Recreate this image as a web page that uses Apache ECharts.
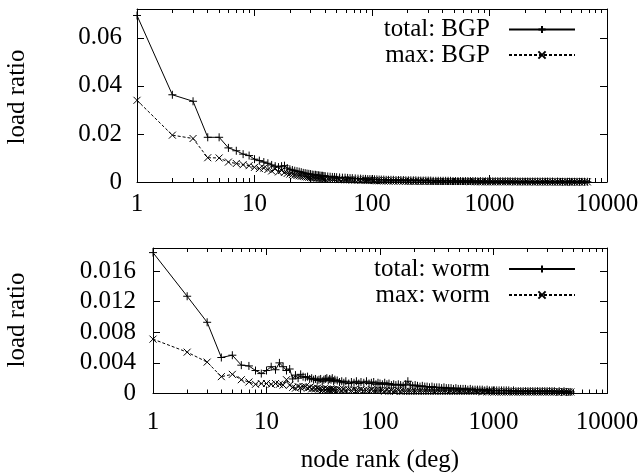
<!DOCTYPE html>
<html><head><meta charset="utf-8">
<script src="https://cdn.jsdelivr.net/npm/echarts@6/dist/echarts.min.js"></script>
<style>html,body{margin:0;padding:0;background:#fff}#c{width:642px;height:476px}</style>
</head><body><div id="c"></div>
<script>
// ---- data ----
const ranksHead = [1,2,3,4,5,6,7,8,9,10,11,12,13,14,15,16,17,18,19,20,21,22,23,24,25,26,27,28,29,30,31,32,33,34,35,36,37,38,39,40];
const ranksTail = [42,44,46,48,50,53,56,59,62,65,68,72,76,80,84,88,92,96,100,105,110,115,120,126,132,138,145,152,160,168,176,185,194,204,214,225,236,248,260,273,287,301,316,332,349,366,384,403,423,444,466,489,513,539,566,594,624,655,688,722,758,796,836,878,922,968,1016,1067,1120,1176,1235,1297,1362,1430,1500,1575,1654,1737,1824,1915,2011,2111,2217,2328,2444,2566,2694,2829,2970,3119,3275,3439,3611,3792,3981,4180,4389,4608,4800];
const ranksBGPExtra = [5040,5292,5557,5835,6127,6433,6800];
const ranksBGP = ranksHead.concat(ranksTail, ranksBGPExtra);
const ranksWorm = ranksHead.concat(ranksTail);

const totalBGP = [
.0693,.0363,.0336,.0186,.0186,.0142,.0130,.0116,.0110,.0095,
.0089,.0083,.0078,.0071,.0066,.0062,.0066,.0068,.0058,.0053,
.0050,.0047,.0045,.0043,.0041,.0038,.0037,.0035,.0034,.0033,
.0031,.0030,.0030,.0029,.0028,.0027,.0026,.0026,.0025,.0024,
.0023,.0022,.0021,.0021,.0020,.0019,.0018,.0018,.0017,.0016,.0016,
.0015,.0014,.0014,.0013,.0013,.0012,.0012,.0011,
.0011,.0011,.0010,.0010,.0010,.0009,.0009,.0009,.0009,.0008,
.0008,.0008,.0008,.0007,.0007,.0007,.0007,.0007,.0006,.0006,
.0006,.0006,.0006,.0006,.0005,.0005,.0005,.0005,.0005,.0005,
.0005,.0005,.0004,.0004,.0004,.0004,.0004,.0004,.0004,.0004,
.0004,.0004,.0003,.0004,.0003,.0003,.0003,.0003,.0003,.0003,
.0003,.0003,.0003,.0003,.0003,.0003,.0002,.0003,.0002,.0002,
.0002,.0002,.0002,.0002,.0002,.0002,.0002,.0002,.0002,.0002,
.0002,.0002,.0002,.0001,.0002,.0001,.0001,.0001,.0001,.0001,
.0001,.0001,.0001,.0001,.0001,.0001,.0001];
const maxBGP = [
.0340,.0195,.0181,.0101,.0100,.0083,.0077,.0072,.0068,.0061,
.0056,.0058,.0052,.0046,.0055,.0042,.0048,.0040,.0036,.0033,
.0031,.0029,.0027,.0026,.0024,.0023,.0022,.0021,.0020,.0019,
.0018,.0018,.0017,.0016,.0016,.0015,.0015,.0014,.0014,.0013,
.0013,.0012,.0012,.0011,.0011,.0010,.0010,.0009,.0009,.0009,.0008,
.0008,.0008,.0007,.0007,.0007,.0006,.0006,.0006,
.0006,.0005,.0005,.0005,.0005,.0005,.0004,.0004,.0004,.0004,
.0004,.0004,.0004,.0003,.0003,.0003,.0003,.0003,.0003,.0003,
.0003,.0003,.0003,.0002,.0002,.0002,.0002,.0002,.0002,.0002,
.0002,.0002,.0002,.0002,.0002,.0002,.0002,.0002,.0002,.0001,
.0002,.0001,.0001,.0001,.0001,.0001,.0001,.0001,.0001,.0001,
.0001,.0001,.0001,.0001,.0001,.0001,.0001,.0001,.0001,.0001,
.0001,.0001,.0001,.0001,.0001,.00005,.0001,.00005,.00005,.00005,
.00005,.00005,.00005,.00005,.00005,.00005,.00005,.00005,.00005,.00005,
.00005,.00005,.00005,.00005,.00005,.00005,.00005];
const totalWorm = [
.0184,.0127,.0093,.0047,.0050,.0037,.0036,.0030,.0026,.0030,
.0035,.0031,.0040,.0035,.0030,.0032,.0019,.0024,.0020,.0025,
.0022,.0021,.0022,.0019,.0020,.0018,.0019,.0017,.0018,.0019,
.0016,.0018,.0019,.0020,.0017,.0019,.0018,.0020,.0016,.0018,
.0017,.0015,.0016,.0014,.0016,.0013,.0015,.0014,.0016,.0013,.0015,
.0014,.0016,.0013,.0014,.0015,.0012,.0014,.0013,
.0012,.0014,.0012,.0013,.0011,.0012,.0011,.0012,.0011,.0010,
.0012,.0016,.0011,.0010,.0011,.0010,.0009,.0010,.0009,.0009,
.0008,.0009,.0008,.0008,.0008,.0007,.0008,.0007,.0007,.0007,
.0006,.0007,.0006,.0006,.0006,.0006,.0005,.0006,.0005,.0005,
.0005,.0005,.0005,.0004,.0005,.0004,.0004,.0004,.0004,.0004,
.0004,.0004,.0004,.0004,.0003,.0004,.0003,.0003,.0003,.0003,
.0003,.0003,.0003,.0003,.0003,.0003,.0003,.0003,.0003,.0003,
.0003,.0003,.0003,.0002,.0003,.0002,.0003,.0002,.0002,.0002];
const maxWorm = [
.0071,.0054,.0041,.0022,.0025,.0018,.0015,.0012,.0013,.0013,
.0012,.0013,.0012,.0011,.0018,.0011,.0008,.0007,.0009,.0008,
.0009,.0009,.0007,.0008,.0006,.0007,.0006,.0007,.0006,.0006,
.0005,.0006,.0005,.0006,.0005,.0005,.0006,.0005,.0005,.0005,
.0005,.0005,.0004,.0005,.0004,.0005,.0004,.0005,.0004,.0004,.0005,
.0004,.0004,.0004,.0005,.0004,.0004,.0004,.0004,
.0004,.0003,.0004,.0003,.0004,.0003,.0003,.0004,.0003,.0003,
.0003,.0003,.0003,.0003,.0003,.0003,.0003,.0003,.0003,.0003,
.0003,.0003,.0003,.0003,.0003,.0003,.0003,.0003,.0003,.0003,
.0003,.0003,.0003,.0003,.0003,.0003,.0003,.0003,.0003,.0003,
.0003,.0003,.0002,.0003,.0002,.0003,.0002,.0002,.0002,.0002,
.0002,.0002,.0002,.0002,.0002,.0002,.0002,.0002,.0002,.0002,
.0002,.0002,.0002,.0002,.0002,.0002,.0002,.0002,.0002,.0002,
.0002,.0002,.0002,.0002,.0002,.0002,.0002,.0002,.0002,.0002];

const xTickLabels = ['1','10','100','1000','10000'];
const yTicksBGP = [0, 0.02, 0.04, 0.06];
const yTicksWorm = [0, 0.004, 0.008, 0.012, 0.016];

// ---- chart ----
const FONT = "'Liberation Serif','DejaVu Serif',serif";
const FS = 25;
const chart = echarts.init(document.getElementById('c'), null, {renderer:'canvas'});
const pair = (xs, ys) => ys.map((v, i) => [xs[i], v]);
const PLUS = 'path://M0,5L10,5M5,0L5,10';
const CROSS = 'path://M0,0L10,10M10,0L0,10';

function xAx(grid, pos, showLabel, margin) {
  return {
    type:'log', logBase:10, gridIndex:grid, position:pos, min:1, max:10000,
    axisLine:{show:true, onZero:false, lineStyle:{color:'#000', width:1}},
    axisTick:{show:true, inside:true, length:7, lineStyle:{color:'#000'}},
    minorTick:{show:true, splitNumber:9, length:4, lineStyle:{color:'#000'}},
    splitLine:{show:false}, minorSplitLine:{show:false},
    axisLabel:{show:showLabel, margin:margin, color:'#000', fontSize:FS, fontFamily:FONT,
      formatter: v => xTickLabels[Math.round(Math.log10(v))]}
  };
}
function yAx(grid, pos, max, interval, showLabel, margin) {
  return {
    type:'value', gridIndex:grid, position:pos, min:0, max:max, interval:interval,
    axisLine:{show:true, onZero:false, lineStyle:{color:'#000', width:1}},
    axisTick:{show:true, inside:true, length:7, lineStyle:{color:'#000'}},
    splitLine:{show:false},
    axisLabel:{show:showLabel, showMaxLabel:false, margin:margin, color:'#000', fontSize:FS, fontFamily:FONT,
      formatter: v => String(+v.toFixed(4))}
  };
}
function ser(name, xi, yi, xs, ys, dashed, sym, size) {
  return {
    name, type:'line', xAxisIndex:xi, yAxisIndex:yi, data:pair(xs, ys),
    symbol:sym, symbolSize:size, showSymbol:true, showAllSymbol:true,
    lineStyle:{color:'#000', width:1, type: dashed ? [3,2] : 'solid'},
    itemStyle:{color:'#000', borderColor:'#000', borderWidth:1},
    emphasis:{disabled:true}, animation:false, silent:true, z:3
  };
}
function leg(name, top) {
  return {
    data:[name], right:66, top:top, align:'right', orient:'horizontal', padding:0,
    itemWidth:66, itemHeight:9, selectedMode:false,
    textStyle:{color:'#000', fontSize:FS, fontFamily:FONT, padding:[0,14,0,0]}
  };
}

chart.setOption({
  animation:false,
  grid:[
    {left:137, top:9, width:470, height:173, containLabel:false},
    {left:153, top:248, width:454, height:145.5, containLabel:false}
  ],
  xAxis:[ xAx(0,'bottom',true,10), xAx(0,'top',false,0), xAx(1,'bottom',true,16), xAx(1,'top',false,0) ],
  yAxis:[ yAx(0,'left',0.072,0.02,true,15), yAx(0,'right',0.072,0.02,false,0),
          yAx(1,'left',0.019,0.004,true,17), yAx(1,'right',0.019,0.004,false,0) ],
  legend:[ leg('total: BGP',17), leg('max: BGP',42.5), leg('total: worm',256.5), leg('max: worm',282.5) ],
  series:[
    ser('total: BGP',0,0,ranksBGP,totalBGP,false,PLUS,8),
    ser('max: BGP',0,0,ranksBGP,maxBGP,true,CROSS,7),
    ser('total: worm',2,2,ranksWorm,totalWorm,false,PLUS,8),
    ser('max: worm',2,2,ranksWorm,maxWorm,true,CROSS,7)
  ],
  graphic:[
    {type:'text', x:17, y:97, rotation:Math.PI/2, style:{text:'load ratio', fill:'#000', font:FS+"px "+FONT, textAlign:'center', textVerticalAlign:'middle'}},
    {type:'text', x:17, y:320, rotation:Math.PI/2, style:{text:'load ratio', fill:'#000', font:FS+"px "+FONT, textAlign:'center', textVerticalAlign:'middle'}},
    {type:'text', x:380, y:460, style:{text:'node rank (deg)', fill:'#000', font:FS+"px "+FONT, textAlign:'center', textVerticalAlign:'middle'}}
  ]
});
</script></body></html>
